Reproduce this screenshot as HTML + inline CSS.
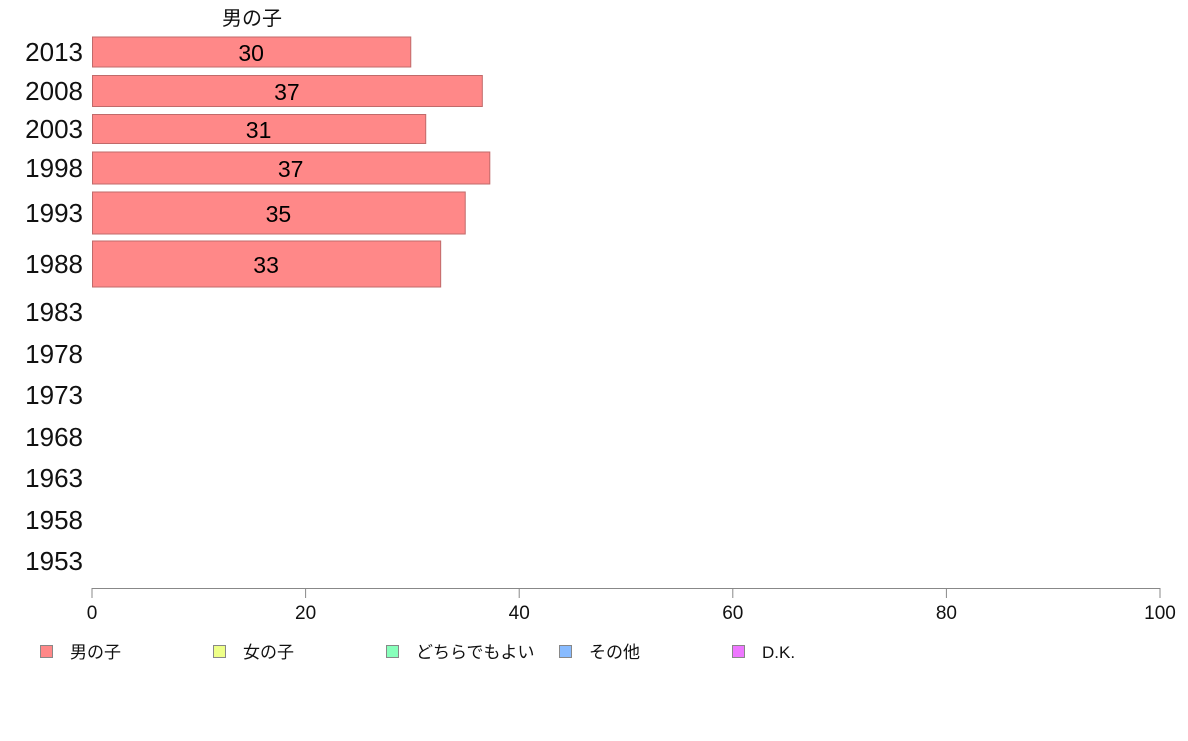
<!DOCTYPE html>
<html><head><meta charset="utf-8"><style>
body{margin:0;background:#fff;}
svg text{font-family:"Liberation Sans","Noto Sans CJK JP",sans-serif;}
</style></head><body>
<svg width="1188" height="736" id="c"></svg>
<script>
const categories=["2013","2008","2003","1998","1993","1988","1983","1978","1973","1968","1963","1958","1953"];
const boyValues=[29.8,36.5,31.2,37.2,34.9,32.6,null,null,null,null,null,null,null];
const valueLabels=["30","37","31","37","35","33"];
const xTicks=[0,20,40,60,80,100];
const legendNames=["男の子","女の子","どちらでもよい","その他","D.K."];
const legendColors=["#ff8888","#eeff88","#88ffbb","#88bbff","#ee77ff"];
// layout (pixels) per row: center y and bar height
const rowY=[52,91,129,168,213,264,312,354,395,437,478,520,561];
const rowH=[30,31,29,32,42,46,0,0,0,0,0,0,0];
const svg=document.getElementById('c');
const NS="http://www.w3.org/2000/svg";
const x=v=>92+v*10.68;
function mk(t,a,txt){const e=document.createElementNS(NS,t);for(const k in a)e.setAttribute(k,a[k]);if(txt!=null)e.textContent=txt;svg.appendChild(e);return e;}
let t=mk('text',{x:252,y:25,'font-size':20,'text-anchor':'middle',fill:'#111'},'男の子');


categories.forEach((c,i)=>{
  const l=mk('text',{x:83,y:rowY[i]+9,'font-size':26,'text-anchor':'end',fill:'#111'},c);
  
  
  if(boyValues[i]!=null){
    const h=rowH[i];
    const r=mk('rect',{x:92.5,y:rowY[i]-h/2,width:x(boyValues[i])-92,height:h,fill:'#ff8888',stroke:'#c06a6a','stroke-width':1});
    
    
    const v=mk('text',{x:(92+x(boyValues[i]))/2,y:rowY[i]+9,'font-size':23,'text-anchor':'middle',fill:'#000'},valueLabels[i]);
    
    
  }
});
const ax=mk('line',{x1:92,x2:1160,y1:588.5,y2:588.5,stroke:'#888'});


xTicks.forEach(v=>{
  const tk=mk('line',{x1:x(v),x2:x(v),y1:588,y2:598,stroke:'#888'});
  
  
  const tl=mk('text',{x:x(v),y:619,'font-size':19,'text-anchor':'middle',fill:'#111'},String(v));
  
  
});
const lx=[40,213,386,559,732];
legendNames.forEach((n,i)=>{
  const r=mk('rect',{x:lx[i]+0.5,y:645.5,width:12,height:12,fill:legendColors[i],stroke:'#888'});
  
  
  const tt=mk('text',{x:lx[i]+30,y:658,'font-size':17,fill:'#111'},n);
  
  
});
</script>
</body></html>
